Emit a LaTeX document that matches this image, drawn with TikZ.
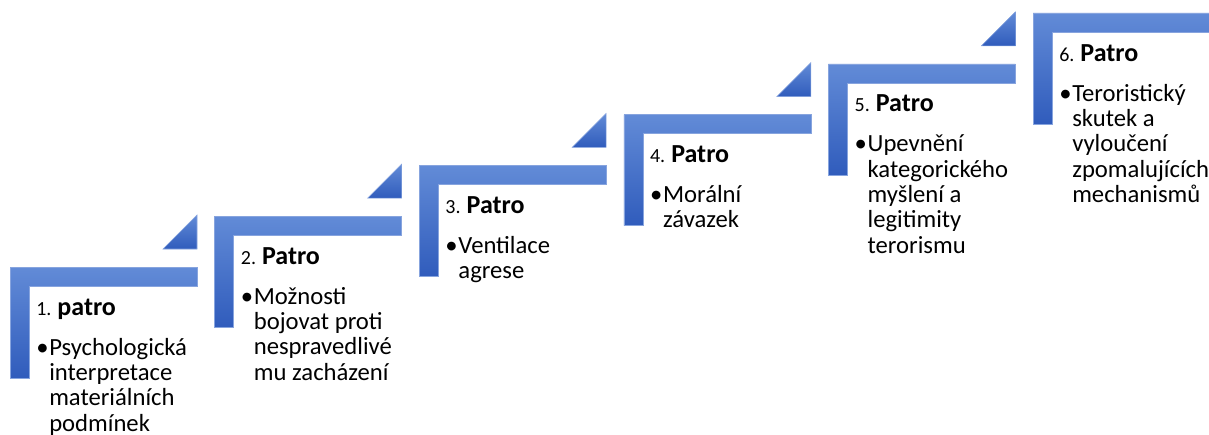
\documentclass[tikz,border=0pt]{standalone}
\usepackage{fontspec}
\setmainfont{Carlito}
\definecolor{stepTop}{RGB}{98,139,215}
\definecolor{stepBot}{RGB}{48,92,188}
\definecolor{stepEdge}{RGB}{135,164,222}
\tikzset{
  stepshape/.style={top color=stepTop, bottom color=stepBot, draw=stepEdge, line width=0.4pt},
  headtxt/.style={anchor=base west, inner sep=0pt},
  bulmark/.style={anchor=base west, inner sep=0pt, font=\fontsize{18.5}{19}\selectfont},
  bultxt/.style={anchor=base west, inner sep=0pt, font=\fontsize{18.5}{19}\selectfont},
}
\newcommand{\numfont}{\fontsize{15}{17}\selectfont}
\newcommand{\patfont}{\fontsize{19.5}{22}\selectfont\bfseries}
\newcommand{\stepL}[2]{%
  \shadedraw[stepshape, shift={(#1,#2)}] (10,267) -- (197,267) -- (197,286) -- (29,286) -- (29,378) -- (10,378) -- cycle;}
\newcommand{\stepT}[2]{%
  \shadedraw[stepshape, shift={(#1,#2)}] (163,249) -- (197,249) -- (197,215) -- cycle;}
\newcommand{\blk}[1]{\parbox[t]{6cm}{\raggedright #1}}
\begin{document}
\begin{tikzpicture}[x=0.75pt,y=-0.75pt]
\useasboundingbox (0,0) rectangle (1209,435);
\clip (0,0) rectangle (1209,435);
% shapes
\stepL{0}{0}\stepT{0}{0}
\stepL{204.6}{-50.8}\stepT{204.6}{-50.8}
\stepL{409.2}{-101.6}\stepT{409.2}{-101.6}
\stepL{613.8}{-152.4}\stepT{613.8}{-152.4}
\stepL{818.4}{-203.2}\stepT{818.4}{-203.2}
\stepL{1023}{-254}
% step 1
\node[headtxt] (h1) at (36,315) {{\numfont 1. }{\patfont patro}};
\node[bulmark] (m1) at (36,355) {•};
\node[bultxt] (t1) at (49,355) {\blk{Psychologická\\interpretace\\materiálních\\podmínek}};
% step 2
\node[headtxt] (h2) at (240.6,264.2) {{\numfont 2. }{\patfont Patro}};
\node[bulmark] (m2) at (240.6,304.2) {•};
\node[bultxt] (t2) at (253.6,304.2) {\blk{Možnosti\\bojovat proti\\nespravedlivé\\mu zacházení}};
% step 3
\node[headtxt] (h3) at (445.2,213.4) {{\numfont 3. }{\patfont Patro}};
\node[bulmark] (m3) at (445.2,253.4) {•};
\node[bultxt] (t3) at (458.2,253.4) {\blk{Ventilace\\agrese}};
% step 4
\node[headtxt] (h4) at (649.8,162.6) {{\numfont 4. }{\patfont Patro}};
\node[bulmark] (m4) at (649.8,202.6) {•};
\node[bultxt] (t4) at (662.8,202.6) {\blk{Morální\\závazek}};
% step 5
\node[headtxt] (h5) at (854.4,111.8) {{\numfont 5. }{\patfont Patro}};
\node[bulmark] (m5) at (854.4,151.8) {•};
\node[bultxt] (t5) at (867.4,151.8) {\blk{Upevnění\\kategorického\\myšlení a\\legitimity\\terorismu}};
% step 6
\node[headtxt] (h6) at (1059,61) {{\numfont 6. }{\patfont Patro}};
\node[bulmark] (m6) at (1059,101) {•};
\node[bultxt] (t6) at (1072,101) {\blk{Teroristický\\skutek a\\vyloučení\\zpomalujících\\mechanismů}};
\end{tikzpicture}
\end{document}
